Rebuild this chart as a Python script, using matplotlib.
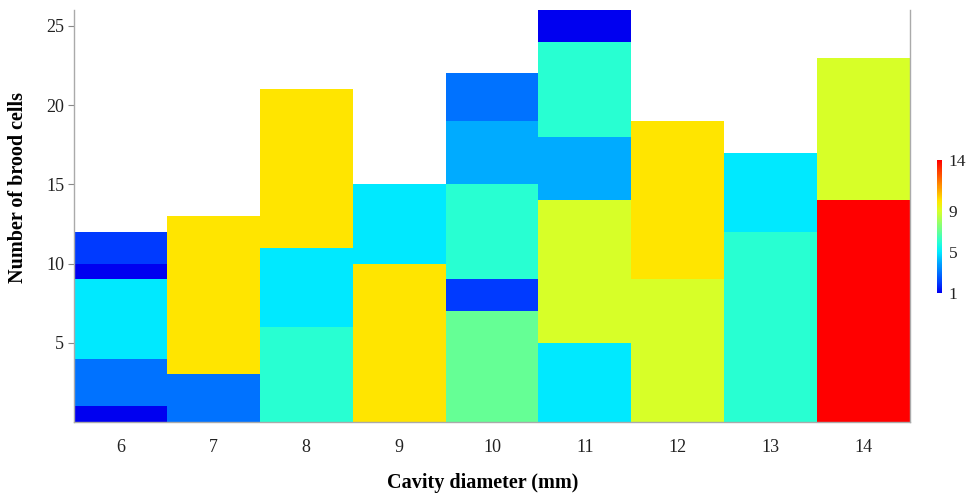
import matplotlib
matplotlib.use('Agg')
import matplotlib.pyplot as plt
from matplotlib.colors import LinearSegmentedColormap, Normalize
from matplotlib.cm import ScalarMappable

plt.rcParams['font.family'] = ['Liberation Serif', 'DejaVu Serif']

# cavity diameters (mm) and brood cells per nest, stacked bottom -> top
diameters = [6, 7, 8, 9, 10, 11, 12, 13, 14]
nests = [
    [1, 3, 5, 1, 2],
    [3, 10],
    [6, 5, 10],
    [10, 5],
    [7, 2, 6, 4, 3],
    [5, 9, 4, 6, 1, 1],
    [9, 10],
    [6, 6, 5],
    [14, 9],
]
cbar_ticks = [1, 5, 9, 14]
y_ticks = [5, 10, 15, 20, 25]

# jet-like scale (value 1..14)
anchors = [(1, '#0000f0'), (2, '#003cff'), (3, '#0073ff'), (4, '#00aaff'),
           (5, '#00ebff'), (6, '#28ffd2'), (7, '#64ff96'), (9, '#d7ff28'),
           (10, '#ffe600'), (14, '#ff0000')]
cmap = LinearSegmentedColormap.from_list(
    'brood', [((v - 1) / 13.0, c) for v, c in anchors])
norm = Normalize(vmin=1, vmax=14)

fig = plt.figure(figsize=(9.68, 4.95), dpi=100)
ax = fig.add_axes([74/968, 1-422/495, 836/968, 412/495])

for d, sizes in zip(diameters, nests):
    bottom = 0
    for s in sizes:
        ax.bar(d, s, bottom=bottom, width=1.0, color=cmap(norm(s)), linewidth=0)
        bottom += s

ax.set_xlim(diameters[0] - 0.5, diameters[-1] + 0.5)
ax.set_ylim(0, 26)
ax.set_xticks(diameters)
ax.set_yticks(y_ticks)
ax.tick_params(axis='x', length=0, pad=12, labelsize=13, colors='#222222')
ax.tick_params(axis='y', length=4, width=0.8, color='#888888', pad=3,
               labelsize=13, labelcolor='#222222')
for side in ['left', 'bottom', 'right']:
    ax.spines[side].set_color('#aaaaaa')
    ax.spines[side].set_linewidth(1.0)
ax.spines['top'].set_visible(False)

ax.set_xlabel('Cavity diameter (mm)', fontsize=14.5, fontweight='bold', va='center')
ax.xaxis.set_label_coords(0.489, -0.148)
ax.set_ylabel('Number of brood cells', fontsize=14.5, fontweight='bold', va='center')
ax.yaxis.set_label_coords(-0.067, 0.57)

cax = fig.add_axes([937/968, 1-293/495, 5/968, 133/495])
cb = fig.colorbar(ScalarMappable(norm=norm, cmap=cmap), cax=cax)
cb.outline.set_visible(False)
cb.set_ticks(cbar_ticks)
cax.tick_params(length=0, pad=5, labelsize=12.5, labelcolor='#222222')

fig.savefig('out.png', dpi=100)
